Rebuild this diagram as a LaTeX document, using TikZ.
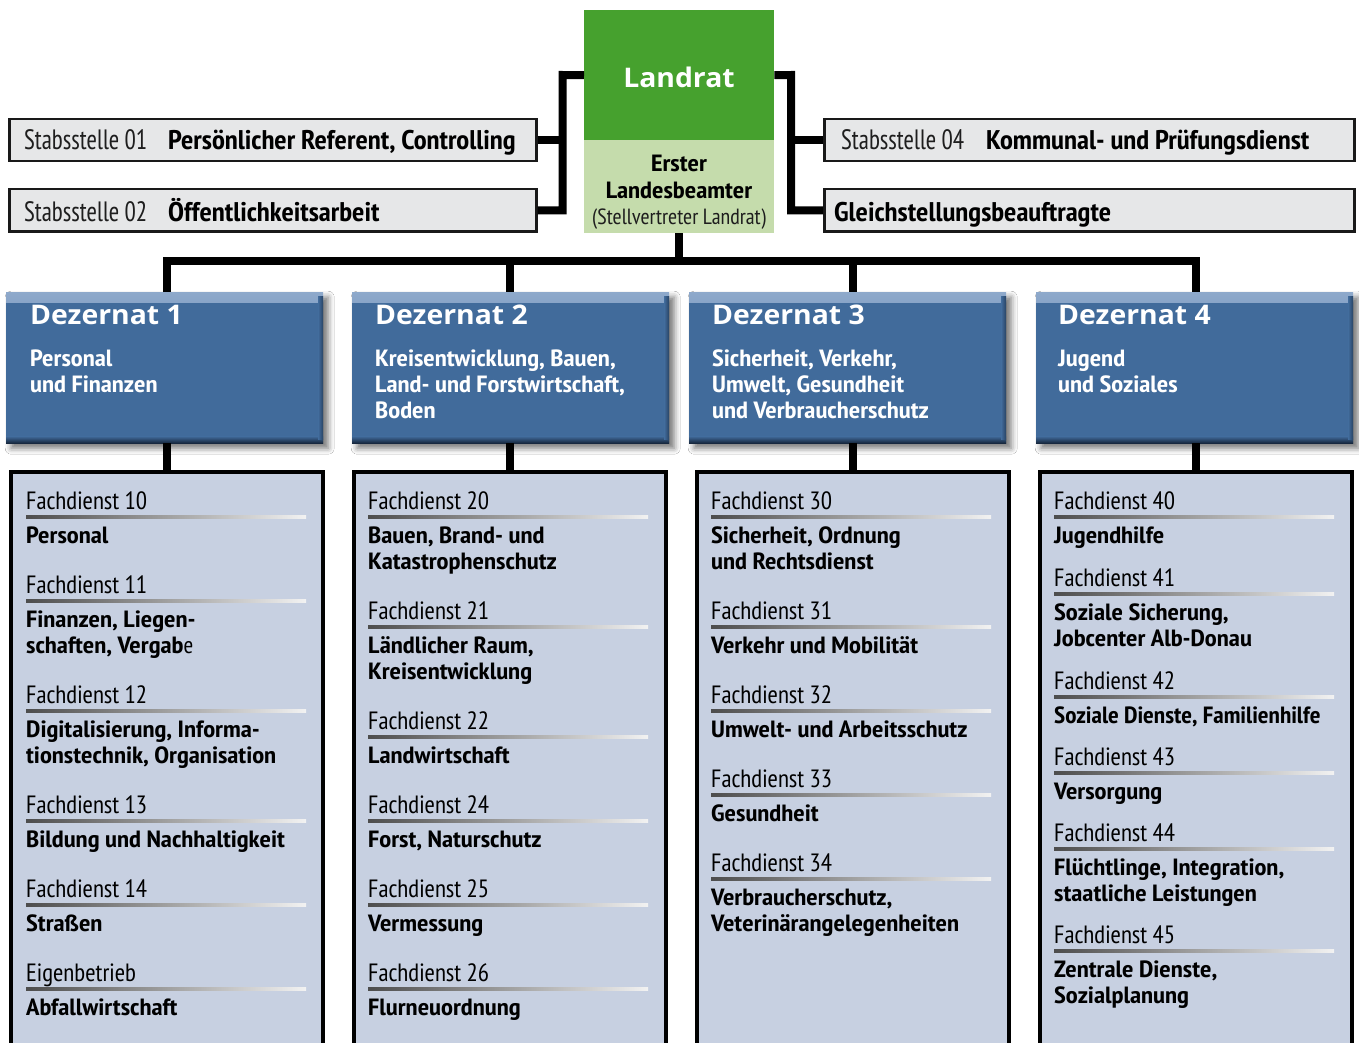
\documentclass[tikz,border=0pt]{standalone}
\usepackage{fontspec}
\setmainfont{PT Sans Narrow}[BoldFeatures={FakeStretch=1.14}]
\newfontfamily\stabsfont{PT Sans Narrow}[BoldFeatures={FakeStretch=1.07}]
\newfontfamily\lightfont{PT Sans Narrow}[FakeStretch=0.9]
\newfontfamily\widefont{Open Sans}[BoldFeatures={FakeStretch=1.05}]
\usetikzlibrary{shadows.blur}
\definecolor{landgreen}{HTML}{46A12E}
\definecolor{lightgreen}{HTML}{C5DCAC}
\definecolor{stabsfill}{HTML}{E6E7E8}
\definecolor{dezblue}{HTML}{416B9B}
\definecolor{dezlight}{HTML}{8EA9CB}
\definecolor{dezdark}{HTML}{16263C}
\definecolor{fdfill}{HTML}{C7D0E1}
\definecolor{lighttext}{HTML}{1E1E1E}
\tikzset{
  conn/.style={line width=8pt, line join=miter, line cap=butt, draw=black},
  stabsbox/.style={draw=black!90, line width=2.5pt, fill=stabsfill, inner sep=0, minimum width=527, minimum height=42, anchor=north west},
  stabslight/.style={anchor=base west, inner sep=0, text=lighttext, font=\lightfont\fontsize{28}{30}\selectfont},
  stabsbold/.style={anchor=base west, inner sep=0, font=\stabsfont\fontsize{27}{30}\selectfont\bfseries},
  dezbox/.style={fill=dezblue, inner sep=0, minimum width=317, minimum height=151, anchor=north west,
    blur shadow={shadow xshift=5pt, shadow yshift=-5pt, shadow blur radius=6pt, shadow opacity=55},
    path picture={
      \shade[top color=dezlight, bottom color=dezblue] (path picture bounding box.north west) rectangle ([yshift=-10pt]path picture bounding box.north east);
      \shade[top color=dezblue, bottom color=dezdark] ([yshift=7pt]path picture bounding box.south west) rectangle (path picture bounding box.south east);
      \shade[left color=dezblue, right color=dezdark!60!dezblue] ([xshift=-5pt,yshift=-4pt]path picture bounding box.north east) rectangle ([yshift=4pt]path picture bounding box.south east);
    }},
  dezhead/.style={anchor=base west, inner sep=0, text=white, font=\widefont\fontsize{27}{30}\selectfont\bfseries},
  dezsub/.style={anchor=base west, inner sep=0, text=white, font=\fontsize{23.5}{26}\selectfont\bfseries},
  fdbox/.style={draw=black, line width=4pt, fill=fdfill, inner sep=0, minimum width=312, minimum height=640, anchor=north west},
  lbl/.style={anchor=base west, inner sep=0, font=\fontsize{25}{26}\selectfont},
  bld/.style={anchor=base west, inner sep=0, font=\fontsize{23.5}{26}\selectfont\bfseries},
  rulegrad/.style={left color=black!70, right color=white!95!black},
  topbold/.style={anchor=base, inner sep=0, font=\fontsize{23.5}{26}\selectfont\bfseries},
  toplight/.style={anchor=base, inner sep=0, text=lighttext, font=\fontsize{22}{26}\selectfont},
}
\newcommand\fdA[5]{%
  \node[lbl] (#1) at (#2,#3) {#4};
  \shade[rulegrad] (#2,#3+6.5) rectangle (#2+280,#3+9.5);
  \node[bld] (#1a) at (#2,#3+34) {#5};}
\newcommand\fdB[6]{\fdA{#1}{#2}{#3}{#4}{#5}\node[bld] (#1b) at (#2,#3+60) {#6};}
\begin{document}
\begin{tikzpicture}[x=1pt,y=-1pt]
\useasboundingbox (0,0) rectangle (1359,1043);
\clip (0,0) rectangle (1359,1043);
\fill[white] (0,0) rectangle (1359,1043);

% Landrat
\node[fill=landgreen, inner sep=0, minimum width=190, minimum height=130, anchor=north west] (landrat) at (584,10) {};
\node[fill=lightgreen, inner sep=0, minimum width=190, minimum height=93, anchor=north west] (erster) at (584,140) {};
\node[anchor=base, inner sep=0, text=white, font=\widefont\fontsize{27}{30}\selectfont\bfseries] (landrattxt) at (679,88) {Landrat};
\node[topbold] (erst1) at (679,172) {Erster};
\node[topbold] (erst2) at (679,198) {Landesbeamter};
\node[toplight] (erst3) at (679,224) {(Stellvertreter Landrat)};

% Stabsstellen
\node[stabsbox] (s01) at (8,118) {};
\node[stabsbox] (s02) at (8,188) {};
\node[stabsbox, minimum width=530] (s04) at (823,118) {};
\node[stabsbox, minimum width=530] (sgl) at (823,188) {};
\node[stabslight] (s01a) at (24,150) {Stabsstelle 01};
\node[stabsbold] (s01b) at (168,150) {Persönlicher Referent, Controlling};
\node[stabslight] (s02a) at (24,221) {Stabsstelle 02};
\node[stabsbold] (s02b) at (168,221) {Öffentlichkeitsarbeit};
\node[stabslight] (s04a) at (841,150) {Stabsstelle 04};
\node[stabsbold] (s04b) at (986,150) {Kommunal- und Prüfungsdienst};
\node[stabsbold] (sglb) at (834,221) {Gleichstellungsbeauftragte};

% connectors at the top
\coordinate (lj) at (562.5,75);
\coordinate (rj) at (791,75);
\draw[conn] (landrat.west) -- (lj) -- (lj |- s02.east) -- (s02.east);
\draw[conn] (s01.east) -- (lj |- s01.east);
\draw[conn] (landrat.east) -- (rj) -- (rj |- sgl.west) -- (sgl.west);
\draw[conn] (s04.west) -- (rj |- s04.west);

% Dezernate
\node[dezbox] (d1) at (6,292) {};
\node[dezbox] (d2) at (352,292) {};
\node[dezbox] (d3) at (689,292) {};
\node[dezbox] (d4) at (1036,292) {};

% Fachdienst boxes
\node[fdbox] (f1) at (9,470) {};
\node[fdbox] (f2) at (352,470) {};
\node[fdbox] (f3) at (695,470) {};
\node[fdbox] (f4) at (1038,470) {};

% bus
\coordinate (bus) at (0,261);
\draw[conn] (erster.south) -- (erster.south |- bus);
\draw[conn] (f1.north |- d1.north) -- (f1.north |- bus) -- (f4.north |- bus) -- (f4.north |- d4.north);
\draw[conn] (f2.north |- bus) -- (f2.north |- d2.north);
\draw[conn] (f3.north |- bus) -- (f3.north |- d3.north);
\foreach \i in {1,2,3,4} {\draw[conn] (f\i.north |- d\i.south) -- ([yshift=-2pt]f\i.north);}

% Dezernat texts
\node[dezhead] (d1h) at (30,324) {Dezernat 1};
\node[dezsub] (d1s1) at (30,366) {Personal};
\node[dezsub] (d1s2) at (30,392) {und Finanzen};
\node[dezhead] (d2h) at (375,324) {Dezernat 2};
\node[dezsub] (d2s1) at (375,366) {Kreisentwicklung, Bauen,};
\node[dezsub] (d2s2) at (375,392) {Land- und Forstwirtschaft,};
\node[dezsub] (d2s3) at (375,418) {Boden};
\node[dezhead] (d3h) at (712,324) {Dezernat 3};
\node[dezsub] (d3s1) at (712,366) {Sicherheit, Verkehr,};
\node[dezsub] (d3s2) at (712,392) {Umwelt, Gesundheit};
\node[dezsub] (d3s3) at (712,418) {und Verbraucherschutz};
\node[dezhead] (d4h) at (1058,324) {Dezernat 4};
\node[dezsub] (d4s1) at (1058,366) {Jugend};
\node[dezsub] (d4s2) at (1058,392) {und Soziales};

% Column 1
\fdA{fd10}{26}{509}{Fachdienst 10}{Personal}
\fdB{fd11}{26}{593}{Fachdienst 11}{Finanzen, Liegen-}{schaften, Vergab\textmd{e}}
\fdB{fd12}{26}{703}{Fachdienst 12}{Digitalisierung, Informa-}{tionstechnik, Organisation}
\fdA{fd13}{26}{813}{Fachdienst 13}{Bildung und Nachhaltigkeit}
\fdA{fd14}{26}{897}{Fachdienst 14}{Straßen}
\fdA{eb}{26}{981}{Eigenbetrieb}{Abfallwirtschaft}
% Column 2
\fdB{fd20}{368}{509}{Fachdienst 20}{Bauen, Brand- und}{Katastrophenschutz}
\fdB{fd21}{368}{619}{Fachdienst 21}{Ländlicher Raum,}{Kreisentwicklung}
\fdA{fd22}{368}{729}{Fachdienst 22}{Landwirtschaft}
\fdA{fd24}{368}{813}{Fachdienst 24}{Forst, Naturschutz}
\fdA{fd25}{368}{897}{Fachdienst 25}{Vermessung}
\fdA{fd26}{368}{981}{Fachdienst 26}{Flurneuordnung}
% Column 3
\fdB{fd30}{711}{509}{Fachdienst 30}{Sicherheit, Ordnung}{und Rechtsdienst}
\fdA{fd31}{711}{619}{Fachdienst 31}{Verkehr und Mobilität}
\fdA{fd32}{711}{703}{Fachdienst 32}{Umwelt- und Arbeitsschutz}
\fdA{fd33}{711}{787}{Fachdienst 33}{Gesundheit}
\fdB{fd34}{711}{871}{Fachdienst 34}{Verbraucherschutz,}{Veterinärangelegenheiten}
% Column 4
\fdA{fd40}{1054}{509}{Fachdienst 40}{Jugendhilfe}
\fdB{fd41}{1054}{586}{Fachdienst 41}{Soziale Sicherung,}{Jobcenter Alb-Donau}
\fdA{fd42}{1054}{689}{Fachdienst 42}{\scalebox{0.94}[1]{Soziale Dienste, Familienhilfe}}
\fdA{fd43}{1054}{765}{Fachdienst 43}{Versorgung}
\fdB{fd44}{1054}{841}{Fachdienst 44}{Flüchtlinge, Integration,}{staatliche Leistungen}
\fdB{fd45}{1054}{943}{Fachdienst 45}{Zentrale Dienste,}{Sozialplanung}
\end{tikzpicture}
\end{document}
